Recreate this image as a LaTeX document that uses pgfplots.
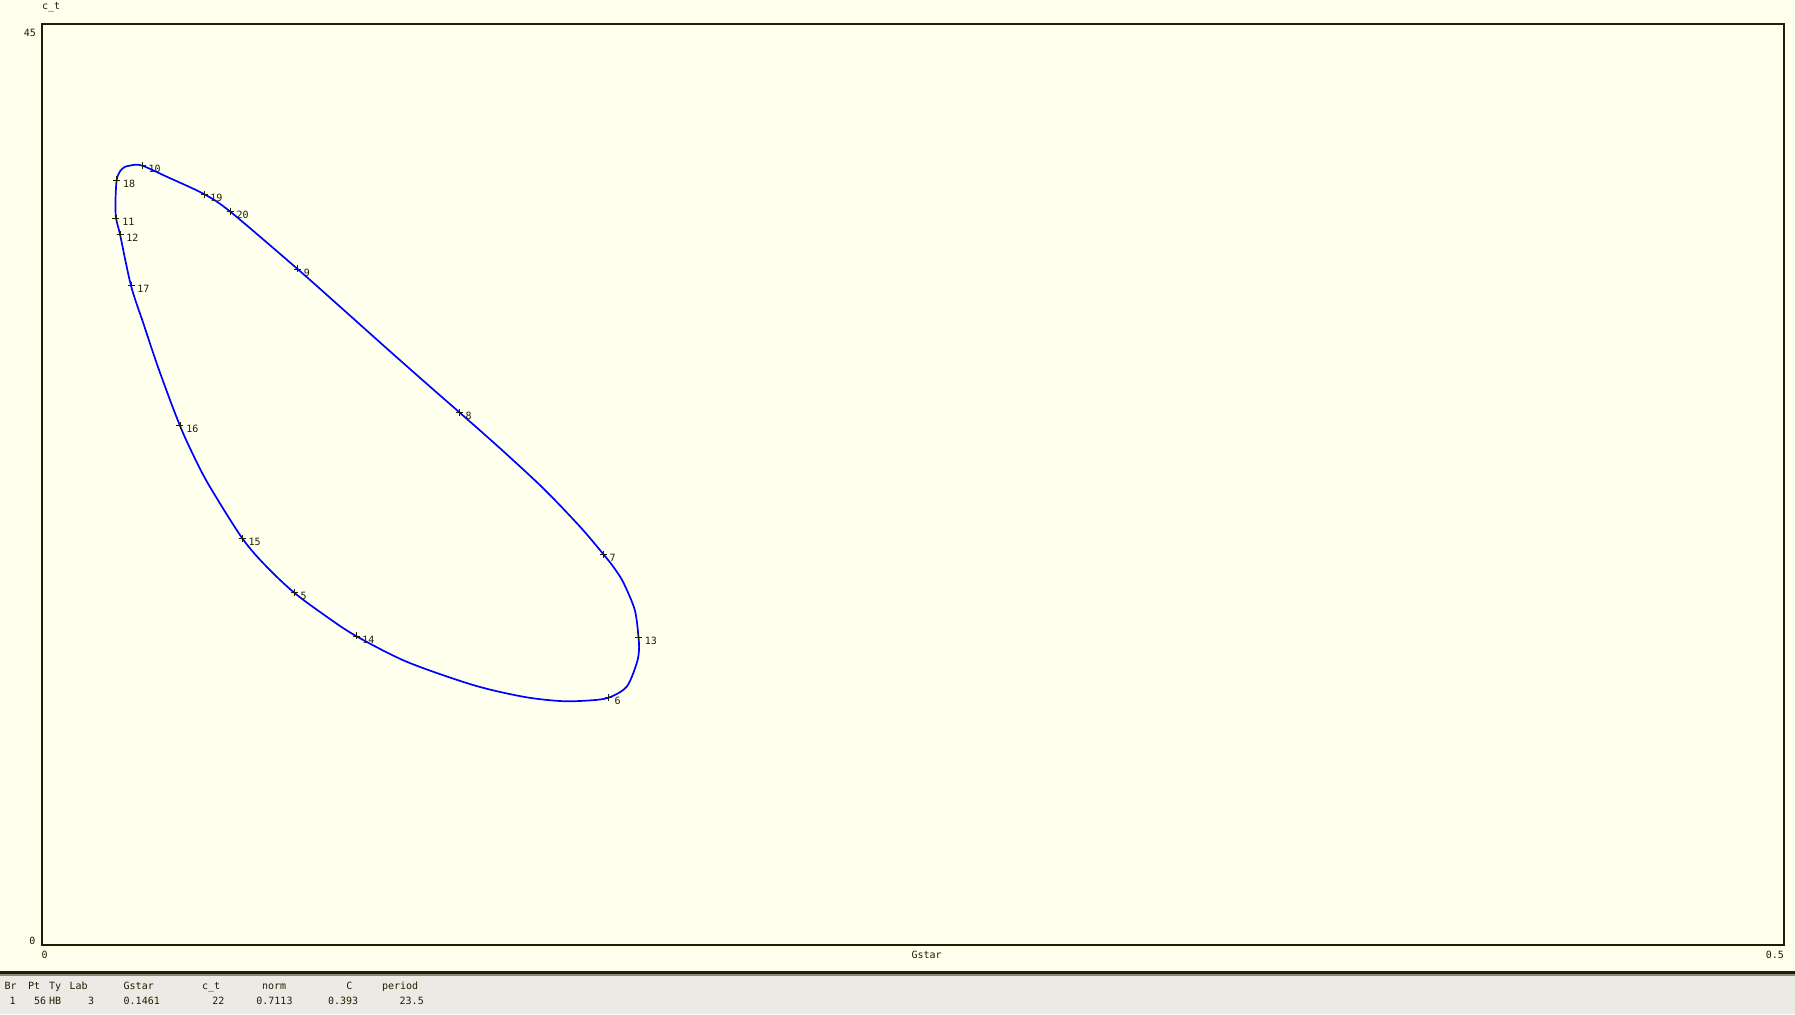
\documentclass[border=0pt]{standalone}
\usepackage{fontspec}
\setmainfont{DejaVu Sans Mono}
\usepackage{pgfplots}
\usepackage{pgfplotstable}
\pgfplotsset{compat=1.18}
\definecolor{bgc}{HTML}{FFFFEE}
\definecolor{fr}{HTML}{1E1E00}
\definecolor{panel}{HTML}{ECEAE4}
\definecolor{sep}{HTML}{8A8A80}

\pgfplotstableread{
x y
0.02621 38.11
0.02879 38.08
0.03579 37.54
0.04650 36.69
0.05405 35.83
0.07334 33.03
0.08553 31.19
0.09894 29.15
0.11137 27.28
0.11978 26.03
0.13146 24.27
0.14389 22.31
0.15442 20.44
0.16111 19.10
0.16429 18.41
0.16693 17.69
0.17015 16.37
0.17121 15.05
0.17136 14.41
0.17069 13.76
0.16782 12.62
0.16254 12.08
0.15634 11.94
0.14868 11.92
0.13814 12.13
0.12379 12.70
0.10468 13.84
0.09013 15.10
0.08172 16.04
0.07242 17.21
0.06449 18.48
0.05749 19.87
0.04760 22.56
0.04248 24.27
0.03961 25.37
0.03674 26.63
0.03292 28.42
0.02908 30.38
0.02555 32.21
0.02239 34.72
0.02124 35.51
0.02110 36.40
0.02144 37.38
0.02239 37.80
0.02382 38.02
0.02621 38.11
}\loopdata

\pgfplotstableread{
x y lab
0.02879 38.08 10
0.02144 37.38 18
0.02124 35.51 11
0.02239 34.72 12
0.02555 32.21 17
0.03961 25.37 16
0.05749 19.87 15
0.07242 17.21 5
0.09013 15.10 14
0.16254 12.08 6
0.17121 15.05 13
0.16111 19.10 7
0.11978 26.03 8
0.07334 33.03 9
0.05405 35.83 20
0.04650 36.69 19
}\labdata

\begin{document}
\begin{tikzpicture}[x=1pt,y=1pt,font=\fontsize{10}{12}\selectfont]
\fill[bgc] (0,0) rectangle (1795,1014);
\useasboundingbox (0,0) rectangle (1795,1014);
\fill[panel] (0,0) rectangle (1795,38);
\fill[sep] (0,38) rectangle (1795,40);
\fill[fr] (0,40) rectangle (1795,42.5);

\begin{axis}[
  at={(42pt,69pt)}, anchor=south west,
  scale only axis, width=1742pt, height=921pt,
  xmin=0, xmax=0.5, ymin=0, ymax=45,
  ticks=none,
  axis line style={fr, line width=1.3pt},
  axis background/.style={fill=bgc},
  clip=false,
]
\addplot[blue, line width=1.7pt, smooth, tension=0.5] table[x=x,y=y] {\loopdata};
\addplot[only marks, mark=+, mark size=3.5pt, fr, line width=0.7pt,
  point meta=explicit symbolic,
  nodes near coords, nodes near coords align=horizontal,
  every node near coord/.append style={anchor=west, inner sep=0pt, xshift=6pt, yshift=-3.5pt, text=fr, font=\fontsize{10}{12}\selectfont}]
  table[x=x,y=y,meta=lab] {\labdata};
\end{axis}

\begin{scope}[every node/.style={inner sep=0pt, text=fr}]
\node[anchor=base west] at (42,1014-10) {c\_t};
\node[anchor=base east] at (36,1014-36.7) {45};
\node[anchor=base east] at (35.5,1014-945) {0};
\node[anchor=base west] at (41.5,1014-959) {0};
\node[anchor=base east] at (1784,1014-959) {0.5};
\node[anchor=base] at (926.7,1014-959) {Gstar};

\node[anchor=base west] at (4.5,24) {Br};
\node[anchor=base west] at (27.8,24) {Pt};
\node[anchor=base west] at (48.8,24) {Ty};
\node[anchor=base west] at (69.5,24) {Lab};
\node[anchor=base west] at (123.5,24) {Gstar};
\node[anchor=base west] at (201.8,24) {c\_t};
\node[anchor=base west] at (261.8,24) {norm};
\node[anchor=base west] at (346.2,24) {C};
\node[anchor=base west] at (381.8,24) {period};

\node[anchor=base west] at (9.5,9.7) {1};
\node[anchor=base west] at (33.8,9.7) {56};
\node[anchor=base west] at (48.8,9.7) {HB};
\node[anchor=base west] at (87.8,9.7) {3};
\node[anchor=base west] at (123.5,9.7) {0.1461};
\node[anchor=base west] at (212.2,9.7) {22};
\node[anchor=base west] at (256.2,9.7) {0.7113};
\node[anchor=base west] at (327.8,9.7) {0.393};
\node[anchor=base west] at (399.5,9.7) {23.5};
\end{scope}
\end{tikzpicture}
\end{document}
